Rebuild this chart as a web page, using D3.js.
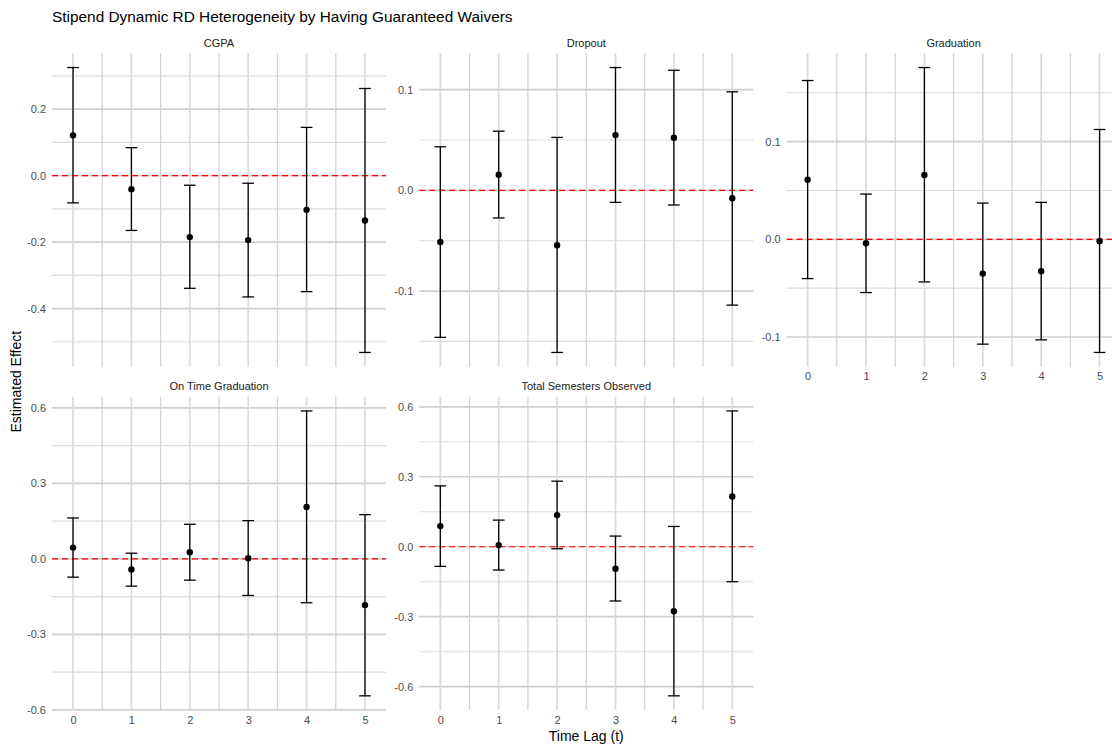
<!DOCTYPE html>
<html>
<head>
<meta charset="utf-8">
<script src="https://cdn.jsdelivr.net/npm/d3@7"></script>
<style>
  html, body { margin: 0; padding: 0; background: #ffffff; }
  svg { display: block; font-family: "Liberation Sans", Arial, sans-serif; }
</style>
</head>
<body>
<svg id="chart" width="1112" height="746"></svg>
<script>
// Outcomes (facet panels) and time lags
const outcomes = ["CGPA", "Dropout", "Graduation", "On Time Graduation", "Total Semesters Observed"];
const lags = [0, 1, 2, 3, 4, 5];

// Point estimates and 95% confidence bounds per outcome
const cgpaEstimate = [0.121, -0.041, -0.185, -0.194, -0.103, -0.135];
const cgpaLower    = [-0.082, -0.165, -0.339, -0.365, -0.349, -0.532];
const cgpaUpper    = [0.325, 0.084, -0.029, -0.023, 0.145, 0.262];

const dropoutEstimate = [-0.0512, 0.0155, -0.0545, 0.0549, 0.0522, -0.0079];
const dropoutLower    = [-0.146, -0.0274, -0.161, -0.0119, -0.0145, -0.114];
const dropoutUpper    = [0.0433, 0.0588, 0.0526, 0.122, 0.1193, 0.0979];

const graduationEstimate = [0.061, -0.0041, 0.0658, -0.0351, -0.0327, -0.002];
const graduationLower    = [-0.0402, -0.0545, -0.0436, -0.1073, -0.1029, -0.1158];
const graduationUpper    = [0.1625, 0.0463, 0.1758, 0.0371, 0.0378, 0.1124];

const onTimeEstimate = [0.0449, -0.0423, 0.0264, 0.0026, 0.206, -0.1837];
const onTimeLower    = [-0.0727, -0.1084, -0.0846, -0.1454, -0.1744, -0.5445];
const onTimeUpper    = [0.1626, 0.0225, 0.1374, 0.152, 0.588, 0.1758];

const semestersEstimate = [0.0885, 0.0071, 0.1356, -0.0942, -0.2768, 0.2155];
const semestersLower    = [-0.0842, -0.0999, -0.0086, -0.2326, -0.6393, -0.1498];
const semestersUpper    = [0.261, 0.1142, 0.2811, 0.0457, 0.087, 0.5822];

// Major y-axis breaks per panel
const cgpaTicks       = [-0.4, -0.2, 0.0, 0.2];
const dropoutTicks    = [-0.1, 0.0, 0.1];
const graduationTicks = [-0.1, 0.0, 0.1];
const onTimeTicks     = [-0.6, -0.3, 0.0, 0.3, 0.6];
const semestersTicks  = [-0.6, -0.3, 0.0, 0.3, 0.6];

const panels = [
  { name: outcomes[0], est: cgpaEstimate, lo: cgpaLower, hi: cgpaUpper, ticks: cgpaTicks },
  { name: outcomes[1], est: dropoutEstimate, lo: dropoutLower, hi: dropoutUpper, ticks: dropoutTicks },
  { name: outcomes[2], est: graduationEstimate, lo: graduationLower, hi: graduationUpper, ticks: graduationTicks },
  { name: outcomes[3], est: onTimeEstimate, lo: onTimeLower, hi: onTimeUpper, ticks: onTimeTicks },
  { name: outcomes[4], est: semestersEstimate, lo: semestersLower, hi: semestersUpper, ticks: semestersTicks }
];

const svg = d3.select("#chart");
const fmt = d3.formatLocale({ decimal: ".", thousands: ",", grouping: [3], currency: ["$", ""], minus: "-" }).format(".1f");

// Facet grid geometry (3 columns, 2 rows)
const ncol = 3;
const plotLeft = 52, plotTop = 53.3;
const panelW = 334, panelH = 313.4;
const colGap = 33.3, rowGap = 30;
const capHalf = 0.1;

// Shared x scale domain: error bar caps widen the data range, then 5% expansion
const xMin = d3.min(lags) - capHalf, xMax = d3.max(lags) + capHalf;
const xPad = (xMax - xMin) * 0.05;
const xDomain = [xMin - xPad, xMax + xPad];
const xMajor = lags;
const xMinor = d3.range(xMajor.length - 1).map(i => (xMajor[i] + xMajor[i + 1]) / 2);

// Plot title
svg.append("text")
  .attr("x", plotLeft)
  .attr("y", 22)
  .attr("font-size", 15.4)
  .attr("fill", "#000")
  .text("Stipend Dynamic RD Heterogeneity by Having Guaranteed Waivers");

panels.forEach((p, i) => {
  const col = i % ncol, row = Math.floor(i / ncol);
  const left = plotLeft + col * (panelW + colGap);
  const top = plotTop + row * (panelH + rowGap);

  const x = d3.scaleLinear().domain(xDomain).range([left, left + panelW]);

  const yLo = d3.min(p.lo), yHi = d3.max(p.hi);
  const yPad = (yHi - yLo) * 0.05;
  const y = d3.scaleLinear().domain([yLo - yPad, yHi + yPad]).range([top + panelH, top]);

  // Minor y breaks: midpoints between majors, extended one step each side
  const step = p.ticks[1] - p.ticks[0];
  const yMinor = d3.range(p.ticks.length + 1)
    .map(k => p.ticks[0] - step / 2 + k * step)
    .filter(v => v >= y.domain()[0] && v <= y.domain()[1]);

  const g = svg.append("g");

  // Grid: minor then major
  g.selectAll(".yminor").data(yMinor).join("line")
    .attr("x1", left).attr("x2", left + panelW)
    .attr("y1", d => y(d)).attr("y2", d => y(d))
    .attr("stroke", "#dcdcdc").attr("stroke-width", 1.1);
  g.selectAll(".xminor").data(xMinor).join("line")
    .attr("x1", d => x(d)).attr("x2", d => x(d))
    .attr("y1", top).attr("y2", top + panelH)
    .attr("stroke", "#d2d2d2").attr("stroke-width", 1.2);
  g.selectAll(".ymajor").data(p.ticks).join("line")
    .attr("x1", left).attr("x2", left + panelW)
    .attr("y1", d => y(d)).attr("y2", d => y(d))
    .attr("stroke", "#cfcfcf").attr("stroke-width", 1.7);
  g.selectAll(".xmajor").data(xMajor).join("line")
    .attr("x1", d => x(d)).attr("x2", d => x(d))
    .attr("y1", top).attr("y2", top + panelH)
    .attr("stroke", "#dadada").attr("stroke-width", 1.7);

  // Strip label
  svg.append("text")
    .attr("x", left + panelW / 2)
    .attr("y", top - 6.5)
    .attr("text-anchor", "middle")
    .attr("font-size", 11)
    .attr("fill", "#1a1a1a")
    .text(p.name);

  // Y axis labels
  const yAxis = d3.axisLeft(y).tickValues(p.ticks).tickFormat(fmt).tickSize(0).tickPadding(6);
  const ya = svg.append("g").attr("transform", `translate(${left},0)`).call(yAxis);
  ya.select(".domain").remove();
  ya.selectAll("text").attr("font-size", 11).attr("fill", "#4d4d4d").attr("font-family", "Liberation Sans, Arial, sans-serif");

  // X axis labels on the lowest panel of each column
  const lowest = i + ncol >= panels.length;
  if (lowest) {
    const xAxis = d3.axisBottom(x).tickValues(xMajor).tickFormat(d3.format("d")).tickSize(0).tickPadding(6);
    const xa = svg.append("g").attr("transform", `translate(0,${top + panelH})`).call(xAxis);
    xa.select(".domain").remove();
    xa.selectAll("text").attr("font-size", 11).attr("fill", "#4d4d4d").attr("font-family", "Liberation Sans, Arial, sans-serif");
  }

  // Reference line at zero
  g.append("line")
    .attr("x1", left).attr("x2", left + panelW)
    .attr("y1", y(0)).attr("y2", y(0))
    .attr("stroke", "#ff0000").attr("stroke-width", 1.2)
    .attr("stroke-dasharray", "6,4");

  const rows = lags.map((t, k) => ({ t, est: p.est[k], lo: p.lo[k], hi: p.hi[k] }));

  // Error bars
  const eb = g.selectAll(".eb").data(rows).join("g");
  eb.append("line")
    .attr("x1", d => x(d.t)).attr("x2", d => x(d.t))
    .attr("y1", d => y(d.lo)).attr("y2", d => y(d.hi))
    .attr("stroke", "#000").attr("stroke-width", 1.3);
  eb.append("line")
    .attr("x1", d => x(d.t - capHalf)).attr("x2", d => x(d.t + capHalf))
    .attr("y1", d => y(d.hi)).attr("y2", d => y(d.hi))
    .attr("stroke", "#000").attr("stroke-width", 1.3);
  eb.append("line")
    .attr("x1", d => x(d.t - capHalf)).attr("x2", d => x(d.t + capHalf))
    .attr("y1", d => y(d.lo)).attr("y2", d => y(d.lo))
    .attr("stroke", "#000").attr("stroke-width", 1.3);

  // Point estimates
  g.selectAll(".pt").data(rows).join("circle")
    .attr("cx", d => x(d.t)).attr("cy", d => y(d.est))
    .attr("r", 3.2).attr("fill", "#000");
});

// Axis titles
const gridBottom = plotTop + 2 * panelH + rowGap;
const gridRight = plotLeft + ncol * panelW + (ncol - 1) * colGap;
svg.append("text")
  .attr("x", (plotLeft + gridRight) / 2)
  .attr("y", 741)
  .attr("text-anchor", "middle")
  .attr("font-size", 14)
  .attr("fill", "#000")
  .text("Time Lag (t)");
svg.append("text")
  .attr("transform", `translate(21,${(plotTop + gridBottom) / 2}) rotate(-90)`)
  .attr("text-anchor", "middle")
  .attr("font-size", 14)
  .attr("fill", "#000")
  .text("Estimated Effect");
</script>
</body>
</html>
